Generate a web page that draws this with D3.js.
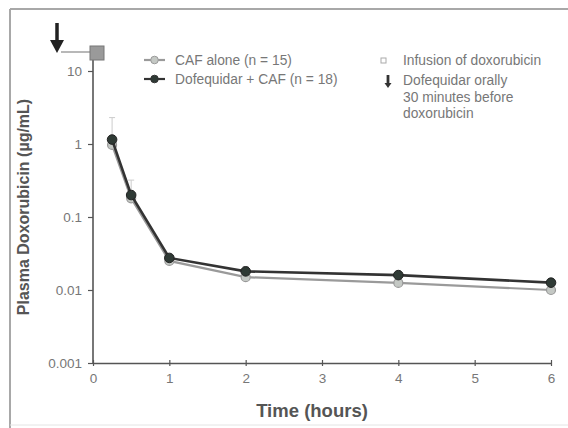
<!DOCTYPE html>
<html>
<head>
<meta charset="utf-8">
<script src="https://cdn.jsdelivr.net/npm/d3@7"></script>
<style>
  body { margin: 0; background: #fff; }
  text { font-family: "Liberation Sans", Arial, sans-serif; }
</style>
</head>
<body>
<div id="chart"></div>
<script>
// Data
var times = [0.25, 0.5, 1, 2, 4, 6];
var cafAlone = [0.97, 0.18, 0.025, 0.015, 0.0125, 0.0100];
var dofCaf = [1.15, 0.20, 0.0275, 0.018, 0.016, 0.0126];
var errUpper = [2.3, 0.32, 0.03, 0.021, 0.018, 0.0135];   // upper error bar tips
var yTicks = [0.001, 0.01, 0.1, 1, 10];
var yTickLabels = ["0.001", "0.01", "0.1", "1", "10"];
var xTicks = [0, 1, 2, 3, 4, 5, 6];

var width = 568, height = 428;

var svg = d3.select("#chart").append("svg")
    .attr("width", width)
    .attr("height", height);

// frame lines of the scanned figure
svg.append("line").attr("x1", 10).attr("x2", 568).attr("y1", 9).attr("y2", 9)
    .style("stroke", "#a8a8a8").style("stroke-width", 2);
svg.append("line").attr("x1", 10).attr("x2", 10).attr("y1", 9).attr("y2", 428)
    .style("stroke", "#a8a8a8").style("stroke-width", 2);
svg.append("line").attr("x1", 10).attr("x2", 568).attr("y1", 425).attr("y2", 425)
    .style("stroke", "#e4e4e4").style("stroke-width", 1);

// scales
var x = d3.scaleLinear().domain([0, 6]).range([93, 551]);
var y = d3.scaleLog().domain([0.001, 10]).range([363, 71]);

var axisColor = "#555";
var tickFont = "13.5px";

// y axis
var yAxis = d3.axisLeft(y).tickValues(yTicks)
    .tickFormat(function (d, i) { return yTickLabels[i]; })
    .tickSize(5).tickSizeOuter(0);
var gy = svg.append("g").attr("transform", "translate(" + x(0) + ",0)").call(yAxis);
gy.select(".domain").remove();
gy.selectAll("line").style("stroke", axisColor).style("stroke-width", 1.2);
gy.selectAll("text").style("fill", "#777").style("font-size", tickFont).attr("x", -11);
svg.append("line").attr("x1", x(0)).attr("x2", x(0))
    .attr("y1", y(0.001)).attr("y2", y(17))
    .style("stroke", axisColor).style("stroke-width", 1.6);

// x axis
var xAxis = d3.axisBottom(x).tickValues(xTicks).tickFormat(d3.format("d"))
    .tickSize(4).tickSizeOuter(0);
var gx = svg.append("g").attr("transform", "translate(0," + y(0.001) + ")").call(xAxis);
gx.select(".domain").style("stroke", axisColor).style("stroke-width", 1.6);
gx.selectAll(".tick line").attr("y1", -3).attr("y2", 3)
    .style("stroke", axisColor).style("stroke-width", 1.2);
gx.selectAll("text").style("fill", "#777").style("font-size", tickFont).attr("y", 10);

// axis titles
svg.append("text")
    .attr("transform", "translate(29," + 207 + ") rotate(-90)")
    .style("text-anchor", "middle")
    .style("font-weight", "700")
    .style("font-size", "16px")
    .style("fill", "#555")
    .text("Plasma Doxorubicin (µg/mL)");

svg.append("text")
    .attr("x", 312).attr("y", 417)
    .style("text-anchor", "middle")
    .style("font-weight", "700")
    .style("font-size", "18.5px")
    .style("fill", "#555")
    .text("Time (hours)");

// error bars
var err = svg.append("g");
times.forEach(function (t, i) {
    err.append("line").attr("x1", x(t)).attr("x2", x(t))
        .attr("y1", y(dofCaf[i])).attr("y2", y(errUpper[i]))
        .style("stroke", "#ccc").style("stroke-width", 1);
    err.append("line").attr("x1", x(t) - 3).attr("x2", x(t) + 3)
        .attr("y1", y(errUpper[i])).attr("y2", y(errUpper[i]))
        .style("stroke", "#ccc").style("stroke-width", 1);
});

var line = d3.line().x(function (d) { return x(d[0]); }).y(function (d) { return y(d[1]); });

// CAF alone series
var lightData = times.map(function (t, i) { return [t, cafAlone[i]]; });
svg.append("path").datum(lightData).attr("d", line)
    .style("fill", "none").style("stroke", "#9a9a9a").style("stroke-width", 2.2);
svg.selectAll(".pt-light").data(lightData).enter().append("circle")
    .attr("class", "pt-light")
    .attr("cx", function (d) { return x(d[0]); })
    .attr("cy", function (d) { return y(d[1]); })
    .attr("r", 4.5)
    .style("fill", "#c4c8c4").style("stroke", "#999").style("stroke-width", 1.2);

// Dofequidar + CAF series
var darkData = times.map(function (t, i) { return [t, dofCaf[i]]; });
svg.append("path").datum(darkData).attr("d", line)
    .style("fill", "none").style("stroke", "#333").style("stroke-width", 2.6);
svg.selectAll(".pt-dark").data(darkData).enter().append("circle")
    .attr("class", "pt-dark")
    .attr("cx", function (d) { return x(d[0]); })
    .attr("cy", function (d) { return y(d[1]); })
    .attr("r", 4.8)
    .style("fill", "#2f3a35").style("stroke", "#222").style("stroke-width", 1);

// dosing marks at top left: arrow and infusion square
var arrowX = 57;
svg.append("line").attr("x1", arrowX).attr("x2", arrowX).attr("y1", 23).attr("y2", 42)
    .style("stroke", "#222").style("stroke-width", 3.5);
svg.append("path")
    .attr("d", "M" + (arrowX - 7) + ",40 L" + (arrowX + 7) + ",40 L" + arrowX + ",53 Z")
    .style("fill", "#222");
svg.append("line").attr("x1", arrowX + 4).attr("x2", 91).attr("y1", 52).attr("y2", 52)
    .style("stroke", "#888").style("stroke-width", 1.2);
svg.append("rect").attr("x", 90).attr("y", 46).attr("width", 14).attr("height", 14)
    .style("fill", "#9a9a9a").style("stroke", "#777").style("stroke-width", 1);

// legend: series
var legendFont = "13.8px";
var leg = svg.append("g");
[["CAF alone (n = 15)", "#9a9a9a", "#c4c8c4", 60], ["Dofequidar + CAF (n = 18)", "#333", "#2f3a35", 79]]
    .forEach(function (d) {
        leg.append("line").attr("x1", 144).attr("x2", 165).attr("y1", d[3]).attr("y2", d[3])
            .style("stroke", d[1]).style("stroke-width", 2.2);
        leg.append("circle").attr("cx", 154.5).attr("cy", d[3]).attr("r", 3.8)
            .style("fill", d[2]).style("stroke", d[1]).style("stroke-width", 1);
        leg.append("text").attr("x", 175).attr("y", d[3] + 5)
            .style("font-size", legendFont).style("fill", "#777").text(d[0]);
    });

// legend: dosing symbols
leg.append("rect").attr("x", 381).attr("y", 58).attr("width", 5).attr("height", 5)
    .style("fill", "none").style("stroke", "#aaa").style("stroke-width", 1);
leg.append("text").attr("x", 403).attr("y", 65)
    .style("font-size", legendFont).style("fill", "#777").text("Infusion of doxorubicin");
leg.append("line").attr("x1", 388).attr("x2", 388).attr("y1", 75).attr("y2", 84)
    .style("stroke", "#333").style("stroke-width", 2.8);
leg.append("path").attr("d", "M384.5,83 L391.5,83 L388,88 Z").style("fill", "#333");
["Dofequidar orally", "30 minutes before", "doxorubicin"].forEach(function (s, i) {
    leg.append("text").attr("x", 403).attr("y", 85 + i * 16.5)
        .style("font-size", legendFont).style("fill", "#777").text(s);
});
</script>
</body>
</html>
